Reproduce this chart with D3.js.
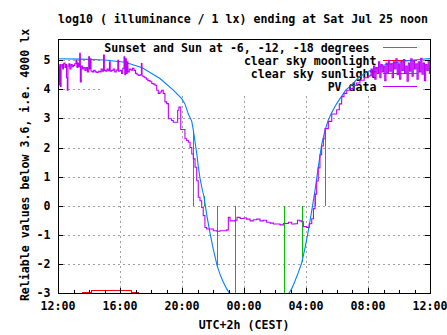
<!DOCTYPE html>
<html><head><meta charset="utf-8">
<script src="https://cdn.jsdelivr.net/npm/d3@7"></script>
<style>
body{margin:0;background:#fff}
svg text{font-family:"DejaVu Sans Mono",monospace;font-weight:bold;font-size:11.6px;fill:#000}
</style>
</head><body><svg id="c" width="447" height="335"></svg>
<script>
// ---------- data (hours since Fri 12:00 CEST) ----------
const titleText = "log10 ( illuminance / 1 lx) ending at Sat Jul 25 noon";
const xLabel = "UTC+2h (CEST)";
const yLabel = "Reliable values below 3.6, i.e. 4000 lx";
const xTickHours = [0, 4, 8, 12, 16, 20, 24];
const xTickLabels = ["12:00", "16:00", "20:00", "00:00", "04:00", "08:00", "12:00"];
const xMinorHours = d3.range(0, 25);
const yTickValues = [-3, -2, -1, 0, 1, 2, 3, 4, 5];
const legendLabels = ["Sunset and Sun at -6, -12, -18 degrees", "clear sky moonlight", "clear sky sunlight", "PV data"];

// Sunset / sun at -6, -12, -18 deg (evening) and back (morning): time, clear-sky level
const sunEventTimes = [8.73, 9.42, 10.28, 11.42, 14.55, 15.72, 16.55, 17.23];
const sunEventLevels = [2.6, 0.35, -2.07, -3.5, -3.5, -1.95, 0.4, 2.6];

const moonlight = [[1.57,-2.97],[2.13,-2.97],[2.13,-2.93],[4.75,-2.93],[4.75,-2.97],[5.18,-2.97],[5.18,-3.1]];

const sunlight = [[0,5.05],[1.42,5.04],[3.03,5.01],[4.32,4.93],[5.40,4.75],[6.58,4.37],[7.44,3.97],[7.98,3.68],
 [8.19,3.5],[8.41,3.15],[8.63,2.9],[8.73,2.6],[8.84,2.2],[8.95,1.8],[9.05,1.35],[9.16,0.95],[9.29,0.6],[9.42,0.3],
 [9.59,-0.3],[9.81,-0.95],[10.02,-1.5],[10.27,-2.07],[10.45,-2.35],[10.66,-2.62],[10.88,-2.85],[11.10,-3.04],
 [11.48,-3.4],[11.87,-3.8],[13.94,-3.8],[14.32,-3.4],[14.86,-3.04],[15.08,-2.85],[15.29,-2.59],[15.5,-2.3],
 [15.72,-1.97],[15.94,-1.44],[16.15,-0.86],[16.37,-0.17],[16.58,0.52],[16.79,1.32],[17.01,2.1],[17.23,2.6],
 [17.44,2.95],[17.66,3.2],[17.98,3.51],[18.56,3.97],[18.84,4.1],[19.35,4.38],[19.92,4.6],[20.99,4.83],[22.28,4.97],[24,5.06]];

const pvData = [[0.00,4.80],[0.04,4.75],[0.08,4.15],[0.12,4.85],[0.16,4.10],[0.20,4.80],[0.25,4.85],[0.30,4.70],[0.35,4.88],
 [0.40,4.90],[0.45,4.75],[0.50,4.85],[0.55,4.40],[0.60,3.97],[0.64,4.80],[0.70,4.88],[0.76,4.70],[0.84,4.85],[0.92,4.78],
 [1.00,4.82],[1.08,4.88],[1.16,5.00],[1.22,4.75],[1.28,4.90],[1.34,4.78],[1.40,5.24],[1.44,4.25],[1.50,4.80],[1.58,4.70],
 [1.66,4.75],[1.74,4.65],[1.82,4.75],[1.90,4.60],[1.98,5.12],[2.03,4.70],[2.08,5.05],[2.13,4.62],[2.22,4.60],[2.30,4.65],
 [2.40,4.60],[2.50,4.58],[2.60,4.62],[2.70,4.60],[2.78,4.70],[2.86,4.62],[2.94,5.18],[2.99,4.65],[3.08,4.62],[3.16,4.70],
 [3.24,4.64],[3.32,4.95],[3.37,4.62],[3.46,4.65],[3.56,4.70],[3.66,4.60],[3.76,4.66],[3.86,5.00],[3.91,4.62],[4.00,4.65],
 [4.10,4.55],[4.18,4.72],[4.26,5.12],[4.31,4.50],[4.36,5.05],[4.41,4.55],[4.46,4.95],[4.51,4.60],[4.60,4.70],[4.70,4.66],
 [4.80,4.72],[4.90,4.65],[5.00,4.55],[5.10,4.50],[5.20,4.48],[5.30,4.50],[5.38,4.89],[5.42,4.46],[5.50,4.43],[5.60,4.40],
 [5.70,4.35],[5.80,4.30],[5.94,4.26],[6.05,4.20],[6.15,4.18],[6.26,4.14],[6.37,3.97],[6.47,3.86],[6.58,3.91],[6.69,3.97],
 [6.79,3.86],[6.90,3.57],[7.01,3.51],[7.12,2.99],[7.33,2.93],[7.44,2.87],[7.72,3.28],[7.80,3.39],[7.92,2.62],[8.19,2.30],
 [8.30,2.24],[8.41,2.18],[8.52,2.00],[8.63,1.78],[8.73,1.61],[8.84,1.32],[8.95,0.86],[9.05,0.29],[9.16,0.17],[9.27,-0.06],
 [9.37,-0.34],[9.48,-0.75],[9.59,-0.80],[10.02,-0.86],[10.24,-0.88],[10.45,-0.86],[10.88,-0.83],[10.99,-0.40],[11.10,-0.52],
 [11.42,-0.50],[11.55,-0.40],[11.75,-0.44],[12.00,-0.42],[12.17,-0.46],[12.39,-0.52],[12.60,-0.48],[12.82,-0.46],[13.03,-0.52],
 [13.25,-0.50],[13.46,-0.57],[13.68,-0.60],[13.90,-0.63],[14.11,-0.63],[14.32,-0.66],[14.54,-0.61],[14.86,-0.57],[15.08,-0.63],
 [15.29,-0.62],[15.45,-0.50],[15.60,-0.52],[15.72,-0.55],[15.83,-0.72],[16.05,-0.75],[16.21,-0.62],[16.37,-0.45],[16.48,-0.10],
 [16.58,0.40],[16.69,0.85],[16.79,1.30],[16.90,1.75],[17.01,2.05],[17.12,2.30],[17.23,2.65],[17.44,2.90],[17.66,3.15],
 [17.98,3.30],[18.15,3.50],[18.30,3.75],[18.45,3.86],[18.63,3.97],[18.84,4.03],[19.05,4.14],[19.25,4.22],[19.48,4.31],
 [19.75,4.40],[20.00,4.45],[20.13,4.48],[20.20,4.70],[20.28,4.45],[20.36,4.80],[20.44,4.35],[20.52,4.75],[20.60,4.55],
 [20.68,4.95],[20.76,4.40],[20.84,4.85],[20.92,4.60],[21.00,4.78],[21.08,4.30],[21.16,4.90],[21.24,4.55],[21.32,5.00],
 [21.40,4.62],[21.48,4.85],[21.56,4.40],[21.64,4.95],[21.72,4.70],[21.80,5.05],[21.88,4.50],[21.96,4.88],[22.04,4.35],
 [22.12,4.92],[22.20,4.65],[22.28,5.02],[22.36,4.55],[22.44,4.80],[22.52,4.28],[22.60,4.90],[22.68,4.62],[22.76,5.05],
 [22.84,4.45],[22.92,4.98],[23.00,4.70],[23.08,4.88],[23.16,4.35],[23.24,4.95],[23.32,4.60],[23.40,5.07],[23.48,4.52],
 [23.56,4.90],[23.64,4.30],[23.72,4.85],[23.80,4.65],[23.88,5.00],[23.96,4.55],[24.00,4.80]];

// ---------- layout ----------
const W = 447, H = 335;
const L = 58, R = 430, T = 39, B = 293;
const col = {green:"#00c000", red:"#ff0000", blue:"#0080ff", purple:"#c000ff", grid:"#a0a0a0"};

const svg = d3.select("#c");
const x = d3.scaleLinear().domain([0, 24]).range([L, R]);
const y = d3.scaleLinear().domain([-3, 5.73]).range([B, T]);

svg.append("defs").append("clipPath").attr("id","clip")
  .append("rect").attr("x",L).attr("y",T).attr("width",R-L).attr("height",B-T);

// grid
const grid = svg.append("g").attr("stroke",col.grid).attr("stroke-dasharray","2,3").attr("shape-rendering","crispEdges");
xTickHours.filter(h => h>0 && h<24).forEach(h => grid.append("line").attr("x1",Math.round(x(h))+0.5).attr("x2",Math.round(x(h))+0.5).attr("y1",B).attr("y2",T));
yTickValues.filter(v => v>-3).forEach(v => grid.append("line").attr("x1",L).attr("x2",R).attr("y1",Math.round(y(v))+0.5).attr("y2",Math.round(y(v))+0.5));

// opaque key background
svg.append("rect").attr("x",100).attr("y",T).attr("width",323).attr("height",54.5).attr("fill","#fff");

// legend
const legColors = [col.green, col.red, col.blue, col.purple];
const leg = svg.append("g");
legendLabels.forEach((lab,i) => {
  const ly = 47.5 + i*13;
  leg.append("text").attr("x", i===0 ? 369.5 : 376.5).attr("y", ly+4.5).attr("text-anchor","end").text(lab);
  leg.append("line").attr("x1",383).attr("x2",417).attr("y1",ly).attr("y2",ly)
    .attr("stroke",legColors[i]).attr("stroke-width",1).attr("shape-rendering","crispEdges");
});

// data
const data = svg.append("g").attr("clip-path","url(#clip)");
sunEventTimes.forEach((t,i) => {
  data.append("line").attr("x1",Math.round(x(t))+0.5).attr("x2",Math.round(x(t))+0.5)
    .attr("y1",y(0)).attr("y2",y(sunEventLevels[i]))
    .attr("stroke",col.green).attr("shape-rendering","crispEdges");
});
const lineGen = d3.line().x(d=>x(d[0])).y(d=>y(d[1]));
data.append("path").attr("d",lineGen(moonlight)).attr("fill","none").attr("stroke",col.red).attr("stroke-width",1).attr("shape-rendering","crispEdges");
data.append("path").attr("d",lineGen(sunlight)).attr("fill","none").attr("stroke",col.blue).attr("stroke-width",1.1);
data.append("path").attr("d",d3.line().x(d=>x(d[0])).y(d=>y(d[1])).curve(d3.curveStepAfter)(pvData))
  .attr("fill","none").attr("stroke",col.purple).attr("stroke-width",1.1);

// axes / border
const ax = svg.append("g").attr("stroke","#000").attr("shape-rendering","crispEdges");
xMinorHours.forEach(h => {
  const major = h % 4 === 0;
  const xx = Math.round(x(h))+0.5;
  ax.append("line").attr("x1",xx).attr("x2",xx).attr("y1",B).attr("y2",B-(major?5:3));
});
yTickValues.forEach(v => {
  const yy = Math.round(y(v))+0.5;
  ax.append("line").attr("x1",L).attr("x2",L+5).attr("y1",yy).attr("y2",yy);
  ax.append("line").attr("x1",R).attr("x2",R-5).attr("y1",yy).attr("y2",yy);
});
ax.append("rect").attr("x",L+0.5).attr("y",T+0.5).attr("width",R-L).attr("height",B-T).attr("fill","none");

// tick labels
yTickValues.forEach(v => svg.append("text").attr("x",50.5).attr("y",y(v)+4).attr("text-anchor","end").text(v));
xTickHours.forEach((h,i) => svg.append("text").attr("x",x(h)).attr("y",310).attr("text-anchor","middle").text(xTickLabels[i]));

// titles
svg.append("text").attr("x",243).attr("y",22.5).attr("text-anchor","middle").text(titleText);
svg.append("text").attr("x",244).attr("y",329).attr("text-anchor","middle").text(xLabel);
svg.append("text").attr("transform","translate(28.5,165) rotate(-90)").attr("text-anchor","middle").text(yLabel);
</script>
</body></html>
